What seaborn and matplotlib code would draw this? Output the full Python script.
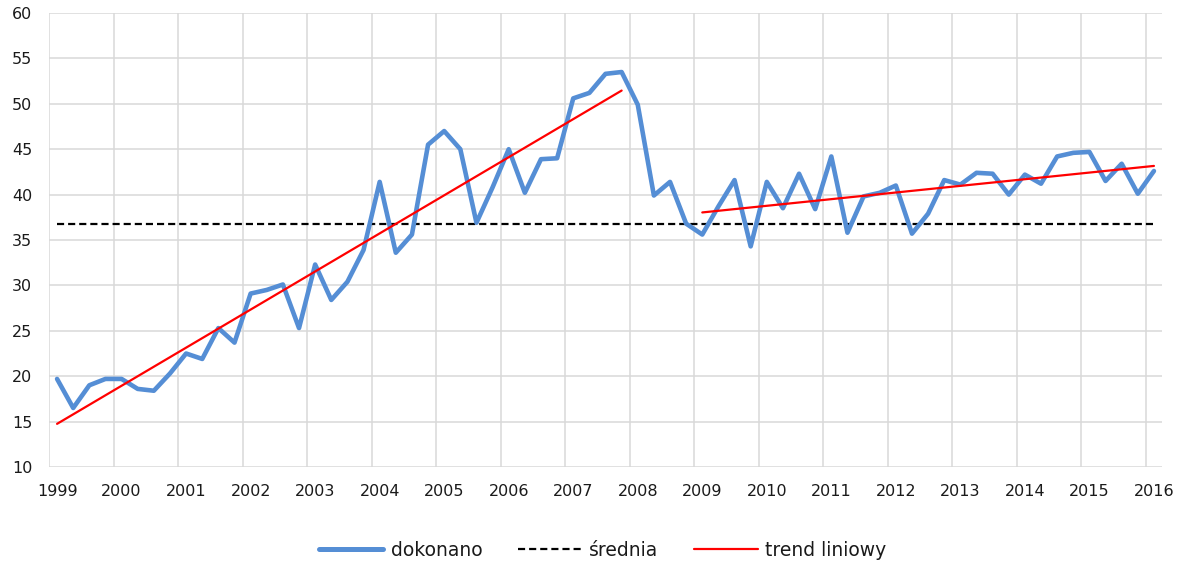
import numpy as np
import pandas as pd
import matplotlib
matplotlib.use("Agg")
import matplotlib.pyplot as plt
from matplotlib.lines import Line2D
import seaborn as sns

# Quarterly series, 1999 Q1 - 2016 Q1
years = list(range(1999, 2017))
dokonano = [
    19.7, 16.5, 19.0, 19.7, 19.7, 18.6, 18.4, 20.3,   # 1999-2000
    22.5, 21.9, 25.3, 23.7, 29.1, 29.5, 30.1, 25.3,   # 2001-2002
    32.3, 28.4, 30.4, 33.9, 41.4, 33.6, 35.6, 45.5,   # 2003-2004
    47.0, 45.0, 36.9, 40.8, 45.0, 40.2, 43.9, 44.0,   # 2005-2006
    50.6, 51.2, 53.3, 53.5, 49.9, 39.9, 41.4, 36.8,   # 2007-2008
    35.6, 38.7, 41.6, 34.3, 41.4, 38.5, 42.3, 38.4,   # 2009-2010
    44.2, 35.8, 39.8, 40.2, 41.0, 35.7, 37.9, 41.6,   # 2011-2012
    41.1, 42.4, 42.3, 40.0, 42.2, 41.2, 44.2, 44.6,   # 2013-2014
    44.7, 41.5, 43.4, 40.1, 42.6,                     # 2015-2016 Q1
]
trend_segments = [(0, 35), (40, 68)]   # 1999Q1-2007Q4, 2009Q1-2016Q1

BLUE = "#558ED5"
GRID = "#D9D9D9"
TEXT = "#1a1a1a"

sns.set_style("white")
plt.rcParams["font.family"] = ["DejaVu Sans"]

q = np.arange(len(dokonano))
df = pd.DataFrame({"q": q, "v": dokonano})

fig = plt.figure(figsize=(11.84, 5.67), dpi=100)
ax = fig.add_axes([49 / 1184, 1 - 467 / 567, 1113 / 1184, 454 / 567])

# mean line
mean_val = float(np.mean(dokonano))
mean_df = pd.DataFrame({"q": [q[0], q[-1]], "v": [mean_val, mean_val]})
sns.lineplot(data=mean_df, x="q", y="v", ax=ax, color="black", lw=1.6,
             linestyle=(0, (3.2, 1.8)), zorder=2)

# actual values
sns.lineplot(data=df, x="q", y="v", ax=ax, color=BLUE, lw=3.3,
             solid_joinstyle="round", solid_capstyle="round", zorder=3)

# linear trends on each segment
for a, b in trend_segments:
    seg = df[(df.q >= a) & (df.q <= b)]
    k, c = np.polyfit(seg.q, seg.v, 1)
    tdf = pd.DataFrame({"q": [a, b], "v": [k * a + c, k * b + c]})
    sns.lineplot(data=tdf, x="q", y="v", ax=ax, color="red", lw=1.6, zorder=4)

ax.set_xlim(-0.5, len(dokonano) - 0.5)
ax.set_ylim(10, 60)
ax.set_yticks(np.arange(10, 61, 5))
ax.set_xticks(np.arange(0, len(dokonano), 4))
ax.set_xticklabels([str(y) for y in years])
ax.set_xticks(np.arange(-0.5, len(dokonano) - 1, 4), minor=True)

ax.grid(which="minor", axis="x", color=GRID, lw=1.1)
ax.grid(which="major", axis="y", color=GRID, lw=1.1)
ax.grid(which="major", axis="x", visible=False)
ax.set_axisbelow(True)
for s in ax.spines.values():
    s.set_visible(False)

ax.tick_params(axis="both", which="both", length=0, labelsize=11.5, labelcolor=TEXT)
ax.tick_params(axis="y", pad=12)
ax.tick_params(axis="x", pad=12)
ax.set_xlabel("")
ax.set_ylabel("")
if ax.get_legend() is not None:
    ax.get_legend().remove()

handles = [
    Line2D([], [], color=BLUE, lw=3.6, solid_capstyle="round"),
    Line2D([], [], color="black", lw=1.6, linestyle=(0, (3.2, 1.8))),
    Line2D([], [], color="red", lw=1.6),
]
fig.legend(handles, ["dokonano", "średnia", "trend liniowy"],
           loc="center", bbox_to_anchor=(603 / 1184, 1 - 550 / 567), ncol=3,
           frameon=False, fontsize=13.5, handlelength=3.4,
           handletextpad=0.4, columnspacing=1.9, labelcolor=TEXT)

fig.savefig("out.png", dpi=100)
